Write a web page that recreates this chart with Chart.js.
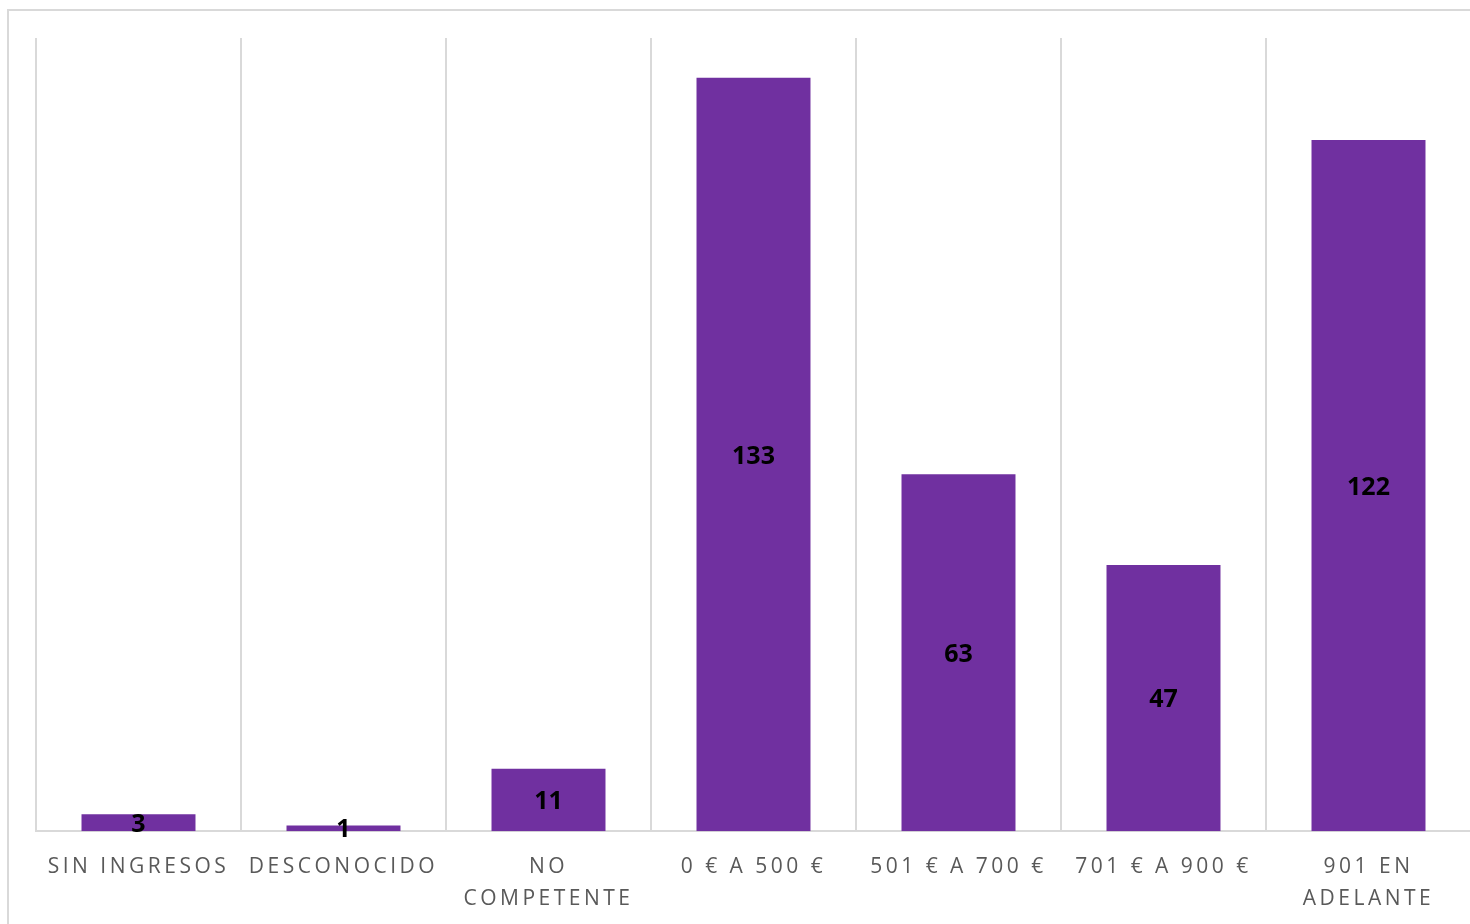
<!DOCTYPE html>
<html>
<head>
<meta charset="utf-8">
<script src="https://cdn.jsdelivr.net/npm/chart.js@4"></script>
<style>
  html, body { margin: 0; padding: 0; background: #fff; overflow: hidden; width: 1470px; height: 924px; }
  #frame { position: absolute; left: 7px; top: 9px; width: 1500px; height: 960px; border: 2px solid #d9d9d9; box-sizing: border-box; }
  #wrap { position: absolute; left: 0; top: 0; width: 1480px; height: 935px; }
</style>
</head>
<body>
<div id="frame"></div>
<div id="wrap"><canvas id="c"></canvas></div>
<script>
const categories = [
  'SIN INGRESOS',
  'DESCONOCIDO',
  ['NO', 'COMPETENTE'],
  '0 € A 500 €',
  '501 € A 700 €',
  '701 € A 900 €',
  ['901 EN', 'ADELANTE']
];
const values = [3, 1, 11, 133, 63, 47, 122];
const yMax = 140;

const spacingPlugin = {
  id: 'spacing',
  beforeLayout(chart) { chart.ctx.letterSpacing = '3.5px'; },
  beforeDraw(chart) { chart.ctx.letterSpacing = '3.5px'; }
};

const labelPlugin = {
  id: 'barLabels',
  afterDatasetsDraw(chart) {
    const ctx = chart.ctx;
    ctx.save();
    ctx.letterSpacing = '0px';
    ctx.font = 'bold 25px "Open Sans", sans-serif';
    ctx.fillStyle = '#000';
    ctx.textAlign = 'center';
    ctx.textBaseline = 'middle';
    const meta = chart.getDatasetMeta(0);
    meta.data.forEach((bar, i) => {
      const p = bar.getProps(['x', 'y', 'base'], true);
      ctx.fillText(String(values[i]), p.x, (p.y + p.base) / 2 + 2);
    });
    ctx.restore();
  }
};

new Chart(document.getElementById('c'), {
  type: 'bar',
  data: {
    labels: categories,
    datasets: [{
      data: values,
      backgroundColor: '#7030A0',
      borderWidth: 0,
      barPercentage: 0.556,
      categoryPercentage: 1.0
    }]
  },
  options: {
    responsive: true,
    maintainAspectRatio: false,
    animation: false,
    layout: { padding: { left: 36, top: 38, right: 9, bottom: 0 } },
    plugins: { legend: { display: false }, tooltip: { enabled: false } },
    scales: {
      y: {
        display: false,
        min: 0,
        max: yMax
      },
      x: {
        grid: {
          display: true,
          offset: true,
          color: '#d9d9d9',
          lineWidth: 2,
          drawTicks: false
        },
        border: { display: true, color: '#d9d9d9', width: 2 },
        ticks: {
          color: '#595959',
          font: { family: '"Open Sans", sans-serif', size: 21, lineHeight: 1.52 },
          padding: 20,
          maxRotation: 0,
          autoSkip: false
        }
      }
    }
  },
  plugins: [spacingPlugin, labelPlugin]
});
</script>
</body>
</html>
